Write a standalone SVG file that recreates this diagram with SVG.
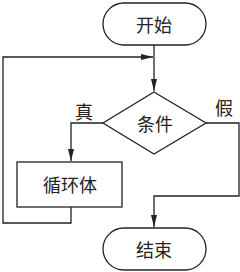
<svg xmlns="http://www.w3.org/2000/svg" width="240" height="272" viewBox="0 0 240 272">
<style>
.s{fill:#fff;stroke:#222;stroke-width:1.3}
.c{fill:none;stroke:#222;stroke-width:1.3}
text{font-family:"Noto Sans CJK SC","Noto Sans",sans-serif;font-size:18px;fill:#222;text-anchor:middle;dominant-baseline:central}
</style>
<defs>
<marker id="a" viewBox="0 0 12 6" refX="12" refY="3" markerWidth="12" markerHeight="6" markerUnits="userSpaceOnUse" orient="auto">
<path d="M0,0 L12,3 L0,6 Z" fill="#222"/>
</marker>
</defs>
<g id="connectors">
<path class="c" d="M154,45 V91" marker-end="url(#a)"/>
<path class="c" d="M103,123 H71 V161" marker-end="url(#a)"/>
<path class="c" d="M71,207 V223 H3 V57 H153" marker-end="url(#a)"/>
<path class="c" d="M206,123 H239 V196 H154 V227" marker-end="url(#a)"/>
</g>
<g id="start">
<rect class="s" x="103" y="3" width="103" height="42" rx="21"/>
<text x="154" y="24">开始</text>
</g>
<g id="cond">
<path class="s" d="M154,92 L206,123 L154,154 L103,123 Z"/>
<text x="155" y="123">条件</text>
</g>
<g id="body">
<rect class="s" x="17" y="162" width="105" height="45"/>
<text x="70" y="184">循环体</text>
</g>
<g id="end">
<rect class="s" x="103" y="228" width="103" height="42" rx="21"/>
<text x="154" y="249">结束</text>
</g>
<g id="labels">
<text x="84" y="111">真</text>
<text x="224" y="107">假</text>
</g>
</svg>
